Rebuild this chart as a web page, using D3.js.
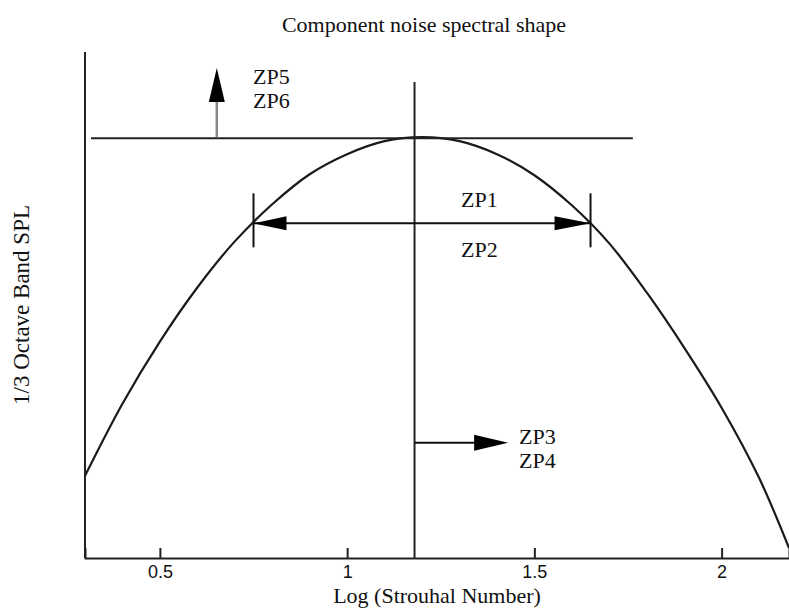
<!DOCTYPE html>
<html>
<head>
<meta charset="utf-8">
<script src="https://cdn.jsdelivr.net/npm/d3@7"></script>
<style>
  body { margin: 0; background: #fff; }
  .serif { font-family: "Liberation Serif", "Times New Roman", serif; fill: #111; }
  .tick-label { font-family: "Liberation Sans", Arial, sans-serif; fill: #111; }
</style>
</head>
<body>
<svg id="chart" width="789" height="610"></svg>
<script>
// Spectral shape (log Strouhal vs relative 1/3 octave SPL, dB)
const logStrouhal = [0.3, 0.4, 0.5, 0.6, 0.7, 0.8, 0.9, 1.0, 1.1, 1.2, 1.3, 1.4, 1.5, 1.6, 1.7, 1.8, 1.9, 2.0, 2.1, 2.18];
const splDb       = [-33.8, -26.6, -20.4, -15.0, -10.4, -6.7, -3.7, -1.7, -0.4, 0, -0.4, -1.7, -3.8, -6.8, -10.6, -15.5, -21.0, -27.0, -34.0, -41.0];
const xTicks = [0.5, 1, 1.5, 2];

// annotation values
const refLog = 1.18;            // vertical reference line
const peakDb = 0;               // horizontal peak line
const peakLineSpan = [0.316, 1.763];
const widthSpan = [0.75, 1.65]; // ZP1 / ZP2 arrow
const widthDb = -8.6;
const shiftEnd = 1.43;          // ZP3 / ZP4 arrow
const shiftDb = -30.5;
const levelLog = 0.652;         // ZP5 / ZP6 arrow
const levelTopDb = 6.9;

const width = 789, height = 610;
const svg = d3.select("#chart");

const x = d3.scaleLinear().domain([0.3, 2.18]).range([85, 789]);
const y = d3.scaleLinear().domain([-42, 8.5]).range([558, 52]);

// Title
svg.append("text")
  .attr("class", "serif")
  .attr("x", 424).attr("y", 32)
  .attr("text-anchor", "middle")
  .style("font-size", "22px")
  .text("Component noise spectral shape");

// Axes
svg.append("line")
  .attr("x1", x(0.3)).attr("x2", x(0.3))
  .attr("y1", y(8.5)).attr("y2", y(-42))
  .attr("stroke", "#222").attr("stroke-width", 2);

const xAxis = d3.axisBottom(x).tickValues(xTicks).tickSize(-10).tickFormat(d3.format(""));
const gx = svg.append("g")
  .attr("transform", `translate(0,${y(-42)})`)
  .call(xAxis);
gx.select(".domain").attr("stroke", "#222").attr("stroke-width", 2);
gx.selectAll(".tick line").attr("stroke", "#222").attr("stroke-width", 2);
gx.selectAll(".tick text")
  .attr("class", "tick-label")
  .attr("y", 7)
  .attr("dy", "0.71em")
  .style("font-size", "18px")
  .attr("fill", "#111");

svg.append("text")
  .attr("class", "serif")
  .attr("x", 437).attr("y", 603)
  .attr("text-anchor", "middle")
  .style("font-size", "22px")
  .text("Log (Strouhal Number)");

svg.append("text")
  .attr("class", "serif")
  .attr("transform", "translate(29,305) rotate(-90)")
  .attr("text-anchor", "middle")
  .style("font-size", "23px")
  .text("1/3 Octave Band SPL");

// Curve
const line = d3.line()
  .x((d, i) => x(logStrouhal[i]))
  .y(d => y(d))
  .curve(d3.curveCatmullRom);

svg.append("path")
  .datum(splDb)
  .attr("d", line)
  .attr("fill", "none")
  .attr("stroke", "#1a1a1a")
  .attr("stroke-width", 2.2);

// Reference lines
svg.append("line")
  .attr("x1", x(refLog)).attr("x2", x(refLog))
  .attr("y1", y(5.5)).attr("y2", y(-42))
  .attr("stroke", "#222").attr("stroke-width", 2);

svg.append("line")
  .attr("x1", x(peakLineSpan[0])).attr("x2", x(peakLineSpan[1]))
  .attr("y1", y(peakDb) + 1).attr("y2", y(peakDb) + 1)
  .attr("stroke", "#222").attr("stroke-width", 2);

// arrow head helper: tip at (tx,ty), pointing along (dx,dy)
function head(tx, ty, dx, dy, len, half) {
  const bx = tx - dx * len, by = ty - dy * len;
  const px = -dy * half, py = dx * half;
  svg.append("path")
    .attr("d", `M${tx},${ty}L${bx + px},${by + py}L${bx - px},${by - py}Z`)
    .attr("fill", "#000");
}

// ZP5 / ZP6 vertical arrow
svg.append("line")
  .attr("x1", x(levelLog)).attr("x2", x(levelLog))
  .attr("y1", y(peakDb)).attr("y2", y(levelTopDb) + 20)
  .attr("stroke", "#888").attr("stroke-width", 2.5);
head(x(levelLog), y(levelTopDb), 0, -1, 34, 8);

svg.append("text").attr("class", "serif")
  .attr("x", 253).attr("y", 84).style("font-size", "22px").text("ZP5");
svg.append("text").attr("class", "serif")
  .attr("x", 253).attr("y", 108).style("font-size", "22px").text("ZP6");

// ZP1 / ZP2 double arrow
const wy = y(widthDb);
svg.append("line")
  .attr("x1", x(widthSpan[0])).attr("x2", x(widthSpan[1]))
  .attr("y1", wy).attr("y2", wy)
  .attr("stroke", "#111").attr("stroke-width", 2);
widthSpan.forEach(v => {
  svg.append("line")
    .attr("x1", x(v)).attr("x2", x(v))
    .attr("y1", wy - 30).attr("y2", wy + 24)
    .attr("stroke", "#111").attr("stroke-width", 2);
});
head(x(widthSpan[0]), wy, -1, 0, 33, 7);
head(x(widthSpan[1]), wy, 1, 0, 36, 7);

svg.append("text").attr("class", "serif")
  .attr("x", 461).attr("y", 207).style("font-size", "22px").text("ZP1");
svg.append("text").attr("class", "serif")
  .attr("x", 461).attr("y", 257).style("font-size", "22px").text("ZP2");

// ZP3 / ZP4 shift arrow
const sy = y(shiftDb);
svg.append("line")
  .attr("x1", x(refLog)).attr("x2", x(shiftEnd) - 20)
  .attr("y1", sy).attr("y2", sy)
  .attr("stroke", "#111").attr("stroke-width", 2);
head(x(shiftEnd), sy, 1, 0, 34, 8);

svg.append("text").attr("class", "serif")
  .attr("x", 519).attr("y", 444).style("font-size", "22px").text("ZP3");
svg.append("text").attr("class", "serif")
  .attr("x", 519).attr("y", 468).style("font-size", "22px").text("ZP4");
</script>
</body>
</html>
